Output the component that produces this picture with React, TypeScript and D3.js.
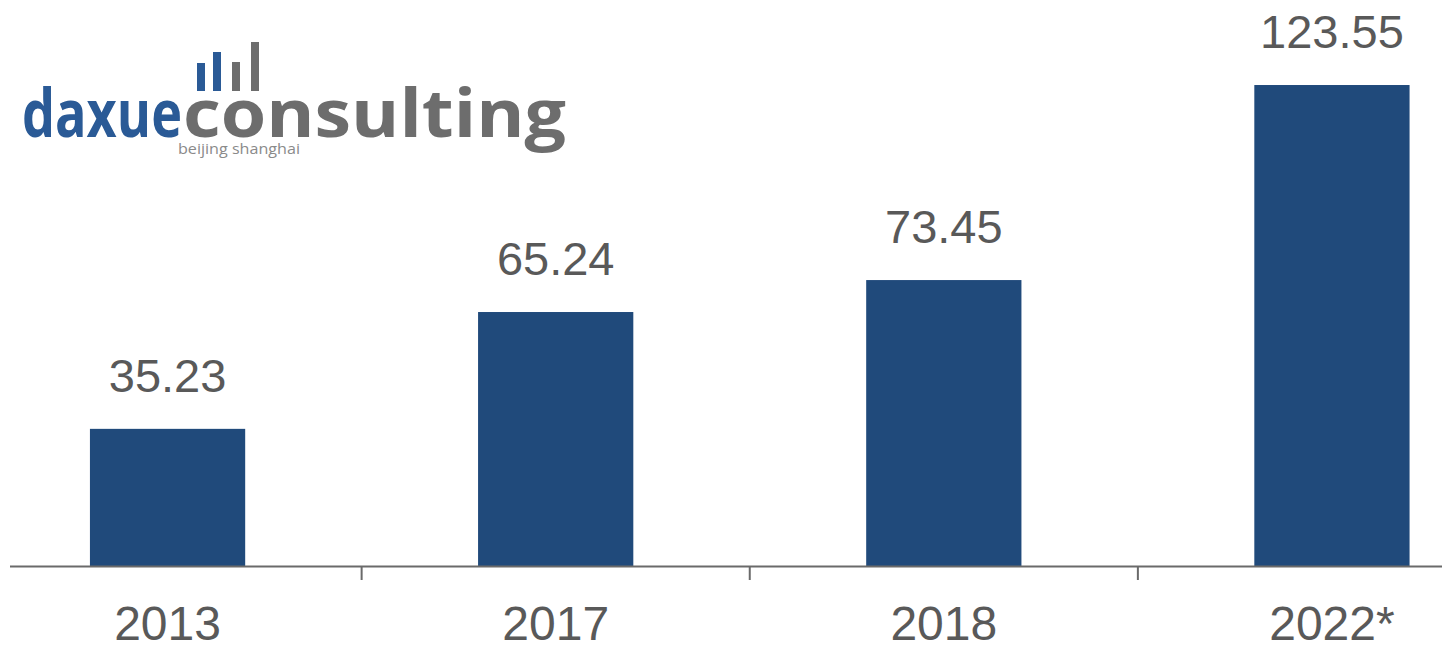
import React from "react";
import * as d3 from "d3";

const categories = ["2013", "2017", "2018", "2022*"];
const values = [35.23, 65.24, 73.45, 123.55];
const valueLabels = ["35.23", "65.24", "73.45", "123.55"];

const W = 1442;
const H = 650;
const BASE = 566;

export default function App() {
  const x = d3
    .scaleBand<string>()
    .domain(categories)
    .range([-26.5, 1526])
    .paddingInner(0.6)
    .paddingOuter(0.3);
  const y = d3.scaleLinear().domain([0, 130]).range([BASE, BASE - 130 * 3.893]);
  const step = x.step();
  const textColor = "#595959";
  const barColor = "#204a7b";
  const font = "'Liberation Sans', Arial, sans-serif";

  return (
    <svg
      width={W}
      height={H}
      style={{ position: "absolute", left: 0, top: 0, background: "#fff" }}
    >
      {/* logo */}
      <g>
        {[
          { x: 197, top: 63, c: "#2a5a96" },
          { x: 213, top: 52, c: "#2a5a96" },
          { x: 232, top: 62, c: "#6d6d6d" },
          { x: 251, top: 42, c: "#6d6d6d" },
        ].map((b, i) => (
          <rect key={i} x={b.x} y={b.top} width={8} height={91 - b.top} fill={b.c} />
        ))}
        <text
          x={22}
          y={137}
          fontFamily="'Open Sans', sans-serif"
          fontWeight={700}
          fontSize={66}
          fill="#2a5a96"
          textLength={160}
          lengthAdjust="spacingAndGlyphs"
        >
          daxue
        </text>
        <text
          x={183}
          y={137}
          fontFamily="'Open Sans', sans-serif"
          fontWeight={700}
          fontSize={66}
          fill="#6d6d6d"
          textLength={383}
          lengthAdjust="spacingAndGlyphs"
        >
          consulting
        </text>
        <text
          x={178}
          y={154}
          fontFamily="'Open Sans', sans-serif"
          fontSize={15}
          fill="#8a8a8a"
          textLength={122}
          lengthAdjust="spacingAndGlyphs"
        >
          beijing shanghai
        </text>
      </g>

      {/* bars */}
      {categories.map((c, i) => (
        <rect
          key={c}
          x={x(c)}
          y={y(values[i])}
          width={x.bandwidth()}
          height={BASE - y(values[i])}
          fill={barColor}
        />
      ))}

      {/* value labels */}
      {categories.map((c, i) => (
        <text
          key={c + "v"}
          x={(x(c) as number) + x.bandwidth() / 2}
          y={y(values[i]) - 37}
          textAnchor="middle"
          fontFamily={font}
          fontSize={47}
          fill={textColor}
        >
          {valueLabels[i]}
        </text>
      ))}

      {/* axis */}
      <line x1={10} x2={W} y1={BASE + 0.5} y2={BASE + 0.5} stroke="#6a6a6a" strokeWidth={2} />
      {categories.slice(0, -1).map((c) => {
        const tx = (x(c) as number) + x.bandwidth() / 2 + step / 2;
        return (
          <line key={c + "t"} x1={tx} x2={tx} y1={BASE} y2={580} stroke="#6a6a6a" strokeWidth={2} />
        );
      })}

      {/* category labels */}
      {categories.map((c) => (
        <text
          key={c + "c"}
          x={(x(c) as number) + x.bandwidth() / 2}
          y={640}
          textAnchor="middle"
          fontFamily={font}
          fontSize={48}
          fill={textColor}
        >
          {c}
        </text>
      ))}
    </svg>
  );
}
